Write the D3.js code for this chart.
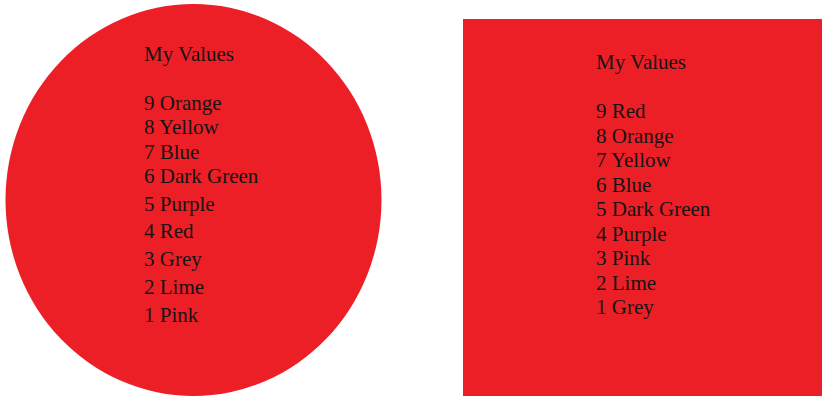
<!DOCTYPE html>
<html>
<head>
<meta charset="utf-8">
<script src="https://cdn.jsdelivr.net/npm/d3@7"></script>
<style>
  body { margin: 0; background: #fff; }
  svg { display: block; }
</style>
</head>
<body>
<div id="chart"></div>
<script>
// data
var titleText = "My Values";
var leftValues = [9, 8, 7, 6, 5, 4, 3, 2, 1];
var leftNames = ["Orange", "Yellow", "Blue", "Dark Green", "Purple", "Red", "Grey", "Lime", "Pink"];
var rightValues = [9, 8, 7, 6, 5, 4, 3, 2, 1];
var rightNames = ["Red", "Orange", "Yellow", "Blue", "Dark Green", "Purple", "Pink", "Lime", "Grey"];

var svgWidth = 822;
var svgHeight = 396;
var red = "#ec1f27";

var svg = d3.select("#chart")
  .append("svg")
  .attr("width", svgWidth)
  .attr("height", svgHeight);

// left shape: ellipse
svg.append("ellipse")
  .attr("cx", 193.5)
  .attr("cy", 200)
  .attr("rx", 188)
  .attr("ry", 196)
  .attr("fill", red);

// right shape: rectangle
svg.append("rect")
  .attr("x", 463)
  .attr("y", 19)
  .attr("width", svgWidth - 463)
  .attr("height", svgHeight - 19)
  .attr("fill", red);

// line positions (left list spreads out a bit lower down)
var leftY = d3.scaleLinear()
  .domain([0, 3, 8])
  .range([110, 183, 321.7]);

var rightY = d3.scaleLinear()
  .domain([0, 8])
  .range([118, 314.3]);

function drawList(x, titleY, values, names, yScale) {
  var g = svg.append("g")
    .attr("font-family", "'Liberation Serif', 'Times New Roman', serif")
    .attr("font-size", "21px")
    .attr("fill", "#141414");

  g.append("text")
    .attr("x", x)
    .attr("y", titleY)
    .text(titleText);

  g.selectAll("text.item")
    .data(values)
    .enter()
    .append("text")
    .attr("class", "item")
    .attr("x", x)
    .attr("y", (d, i) => yScale(i))
    .text((d, i) => d + " " + names[i]);
}

drawList(144, 61, leftValues, leftNames, leftY);
drawList(596, 69, rightValues, rightNames, rightY);
</script>
</body>
</html>
